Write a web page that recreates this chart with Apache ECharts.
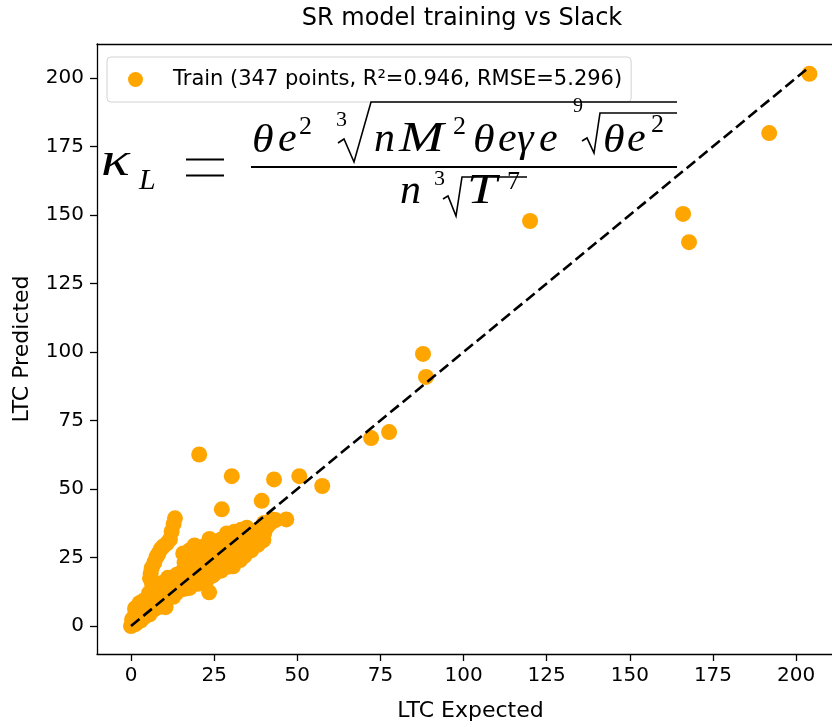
<!DOCTYPE html>
<html><head><meta charset="utf-8">
<script src="https://cdn.jsdelivr.net/npm/echarts@6/dist/echarts.min.js"></script>
<style>html,body{margin:0;padding:0;background:#fff}#c{width:832px;height:727px}</style>
</head><body><div id="c"></div>
<script>
// ---------------- DATA ----------------
const seriesName = 'Train (347 points, R²=0.946, RMSE=5.296)';
const chartTitle = 'SR model training vs Slack';
const xAxisName = 'LTC Expected';
const yAxisName = 'LTC Predicted';
const xTicks = [0, 25, 50, 75, 100, 125, 150, 175, 200];
const yTicks = [0, 25, 50, 75, 100, 125, 150, 175, 200];
const identityLine = [0, 203];

const ltcExpected = [
  204, 191.9, 120, 166, 167.8, 87.8, 88.7, 77.6, 72.2, 20.5, 30.3, 50.6, 43, 57.5, 39.3, 27.3, 46.7, 42.3, 39.3, 23.6, 23.5,
  13.2, 12.8, 12.2, 11.7, 10.8, 9.6, 8.9, 8.2, 7.7, 7.0, 6.2, 5.9, 5.7, 6.3,
  0, 0.4, 0.9, 1.3, 0.3, 1.1, 1.6, 2.1, 1.4, 1.9, 1.2, 2.6, 3.1, 3.3, 2.9, 4.0, 4.6, 4.2, 5.1, 5.6, 3.6, 2.6,
  6.1, 6.6, 7.1, 7.6, 6.0, 5.4, 6.8, 8.1, 8.6, 9.1, 9.6, 10.1, 10.6, 11.1, 11.6, 12.1, 12.7, 13.1, 13.6, 14.1, 14.6, 15.1, 10.1, 12.1, 8.6, 9.1, 11.1, 13.6, 14.7, 7.6, 10.4,
  15.6, 16.1, 16.6, 17.1, 17.6, 18.1, 18.6, 19.1, 19.6, 20.1, 20.6, 21.1, 21.6, 22.1, 22.6, 22.8, 23.1, 23.6, 24.1, 24.6, 25.1, 20.1, 17.6,
  16.1, 17.1, 17.7, 18.6, 19.1, 20.1, 20.1, 21.1, 21.7, 22.1, 23.1, 24.1, 24.1, 15.7, 16.1, 18.1, 19.1,
  25.1, 27.1, 29.1, 31.1, 32.8, 34.1, 36.1, 38.1, 39.8, 25.6, 26.1, 26.6, 27.1, 27.6, 28.1, 28.6, 29.1, 29.6, 30.1, 30.6, 31.1, 31.6, 32.1, 33.1, 33.6, 34.1,
  26.1, 27.1, 28.8, 30.1, 31.1, 32.1, 33.1, 34.8, 35.1, 36.1, 36.1, 37.1, 38.1, 38.6, 40.0, 40.1, 41.1, 42.3, 43.4, 40.1, 35.1, 37.1, 29.1, 26.1, 27.1, 25.1, 30.7, 24.5
];
const ltcPredicted = [
  201.5, 179.9, 147.8, 150.4, 140.1, 99.3, 90.9, 70.8, 68.6, 62.6, 54.7, 54.7, 53.5, 51.1, 45.7, 42.6, 38.9, 38.9, 35.3, 31.8, 12.3,
  39.3, 37.2, 34.5, 31.6, 30.2, 29.0, 28.0, 26.3, 25.3, 23.2, 21.1, 19.2, 17.4, 15.5,
  0, 0.6, 1.4, 0.7, 2.4, 3.6, 2.2, 1.6, 5.2, 7.1, 6.4, 3.1, 4.2, 5.8, 2.0, 3.3, 4.9, 7.0, 5.6, 4.3, 9.1, 8.4,
  5.6, 7.7, 6.2, 8.7, 9.8, 12.0, 14.1, 8.0, 7.0, 9.6, 11.1, 8.6, 10.1, 12.6, 10.6, 11.6, 10.7, 13.6, 12.1, 15.1, 13.1, 14.1, 14.1, 16.2, 12.6, 15.6, 17.6, 18.6, 19.3, 11.4, 6.9,
  15.6, 13.6, 17.1, 15.1, 18.1, 16.1, 19.6, 17.6, 20.6, 18.1, 21.1, 19.1, 22.1, 18.6, 20.1, 16.8, 21.6, 23.1, 20.6, 22.6, 21.1, 15.4, 13.9,
  21.1, 24.1, 27.7, 22.6, 25.1, 23.6, 27.1, 25.6, 28.9, 24.1, 26.6, 25.1, 28.1, 26.5, 23.1, 20.1, 29.4,
  19.1, 20.2, 21.6, 23.1, 24.1, 25.6, 27.6, 29.6, 31.4, 24.1, 22.6, 25.1, 23.6, 26.1, 24.6, 27.6, 26.1, 28.6, 26.6, 29.1, 27.6, 30.1, 28.1, 30.6, 32.1, 29.6,
  30.1, 31.6, 33.8, 33.1, 34.4, 33.6, 35.1, 35.9, 33.1, 34.6, 31.1, 32.6, 35.1, 33.1, 37.6, 36.1, 36.6, 37.9, 38.7, 34.1, 29.1, 30.1, 31.1, 27.6, 28.1, 26.1, 21.8, 18.4
];

// ---------------- BUILD ----------------
const points = ltcExpected.map((x, i) => [x, ltcPredicted[i]]);
const linePts = identityLine.map(v => [v, v]);

const FONT = "'DejaVu Sans', sans-serif";
const MATH = "'Liberation Serif', serif";

// glyph(text, leftX, baselineY, fontSize, italic, scaleX)
function glyph(t, x, base, size, italic, sx) {
  return {
    type: 'text', x: x, y: base - 0.3 * size, scaleX: sx || 1, z: 100,
    style: { text: t, font: (italic ? 'italic ' : '') + size + 'px ' + MATH, fill: '#000', align: 'left', verticalAlign: 'middle' }
  };
}
function seg(x1, y1, x2, y2, w) {
  return { type: 'line', z: 100, shape: { x1, y1, x2, y2 }, style: { stroke: '#000', lineWidth: w } };
}
function rad(pts, w) {
  return { type: 'polyline', z: 100, shape: { points: pts }, style: { stroke: '#000', lineWidth: w, fill: null } };
}

const formula = [
  glyph('κ', 101, 177, 48, true, 1.25),
  glyph('L', 139, 190, 30, true),
  seg(186, 159.5, 224, 159.5, 2),
  seg(186, 175.5, 224, 175.5, 2),
  seg(251, 167, 677, 167, 1.8),
  // numerator
  glyph('θ', 252, 153, 40, true, 1.1),
  glyph('e', 278, 153, 42, true),
  glyph('2', 299, 135, 26, false),
  glyph('3', 336, 127, 22, false),
  rad([[338, 143], [344, 139], [354, 162], [371, 102], [677, 102]], 1.6),
  glyph('n', 374, 153, 42, true),
  glyph('M', 399, 153, 43, true, 1.25),
  glyph('2', 453, 135, 26, false),
  glyph('θ', 473, 153, 40, true, 1.1),
  glyph('e', 498, 153, 42, true),
  glyph('γ', 517, 153, 42, true),
  glyph('e', 539, 153, 42, true),
  glyph('9', 573, 113, 20, false),
  rad([[582, 141], [587, 138], [594, 153], [600, 113], [677, 113]], 1.6),
  glyph('θ', 603, 153, 40, true, 1.1),
  glyph('e', 627, 153, 42, true),
  glyph('2', 651, 133, 26, false),
  // denominator
  glyph('n', 400, 205, 42, true),
  glyph('3', 434, 186, 22, false),
  rad([[443, 199], [448, 196], [456, 216], [462, 177], [527, 177]], 1.6),
  glyph('T', 467, 205, 42, true, 1.28),
  glyph('7', 507, 190, 26, false)
];

// title centred over the plot
const mctx = document.createElement('canvas').getContext('2d');
mctx.font = '24px ' + FONT;
const titleW = mctx.measureText(chartTitle).width;

const chart = echarts.init(document.getElementById('c'), null, { renderer: 'canvas' });
chart.setOption({
  animation: false,
  backgroundColor: '#fff',
  title: {
    text: chartTitle, left: 462 - titleW / 2, top: 7, padding: 0,
    textStyle: { fontFamily: FONT, fontSize: 24, fontWeight: 'normal', color: '#000' }
  },
  legend: {
    left: 107, top: 57, orient: 'horizontal',
    padding: [12, 9, 12, 21],
    itemWidth: 15, itemHeight: 15, icon: 'circle',
    selectedMode: false,
    backgroundColor: 'rgba(255,255,255,0.8)',
    borderColor: '#d3d3d3', borderWidth: 1, borderRadius: 4,
    formatter: name => '{g|}{t|' + name + '}',
    textStyle: {
      fontFamily: FONT, fontSize: 21, color: '#000',
      rich: { g: { width: 25 }, t: { fontFamily: FONT, fontSize: 21, color: '#000' } }
    },
    data: [seriesName]
  },
  grid: { left: 97, top: 44, width: 747, bottom: 73, containLabel: false, outerBoundsMode: 'none' },
  xAxis: [{
    type: 'value', min: -10.23, max: 214.4, position: 'bottom',
    name: xAxisName, nameLocation: 'middle', nameGap: 46,
    nameTextStyle: { fontFamily: FONT, fontSize: 22, color: '#000' },
    axisLine: { show: true, onZero: false, lineStyle: { color: '#000', width: 1.3 } },
    axisTick: { show: true, inside: false, length: 7, customValues: xTicks, lineStyle: { color: '#000', width: 1.3 } },
    axisLabel: { show: true, margin: 12, customValues: xTicks, fontFamily: FONT, fontSize: 20, color: '#000' },
    splitLine: { show: false }
  }, {
    type: 'value', min: -10.23, max: 214.4, position: 'top',
    axisLine: { show: true, onZero: false, lineStyle: { color: '#000', width: 1.3 } },
    axisTick: { show: false }, axisLabel: { show: false }, splitLine: { show: false }
  }],
  yAxis: [{
    type: 'value', min: -10.2, max: 212.4, position: 'left',
    name: yAxisName, nameLocation: 'middle', nameGap: 64,
    nameTextStyle: { fontFamily: FONT, fontSize: 22, color: '#000' },
    axisLine: { show: true, onZero: false, lineStyle: { color: '#000', width: 1.3 } },
    axisTick: { show: true, inside: false, length: 7, customValues: yTicks, lineStyle: { color: '#000', width: 1.3 } },
    axisLabel: { show: true, margin: 13, customValues: yTicks, fontFamily: FONT, fontSize: 20, color: '#000' },
    splitLine: { show: false }
  }],
  series: [{
    name: seriesName, type: 'scatter', xAxisIndex: 0, yAxisIndex: 0,
    data: points, symbol: 'circle', symbolSize: 16,
    itemStyle: { color: '#FFA500', opacity: 1 }, z: 2
  }, {
    name: 'identity', type: 'line', xAxisIndex: 0, yAxisIndex: 0,
    data: linePts, symbol: 'none', silent: true, z: 3,
    lineStyle: { color: '#000', width: 2.6, type: [11, 5] }
  }],
  graphic: formula
});
</script>
</body></html>
